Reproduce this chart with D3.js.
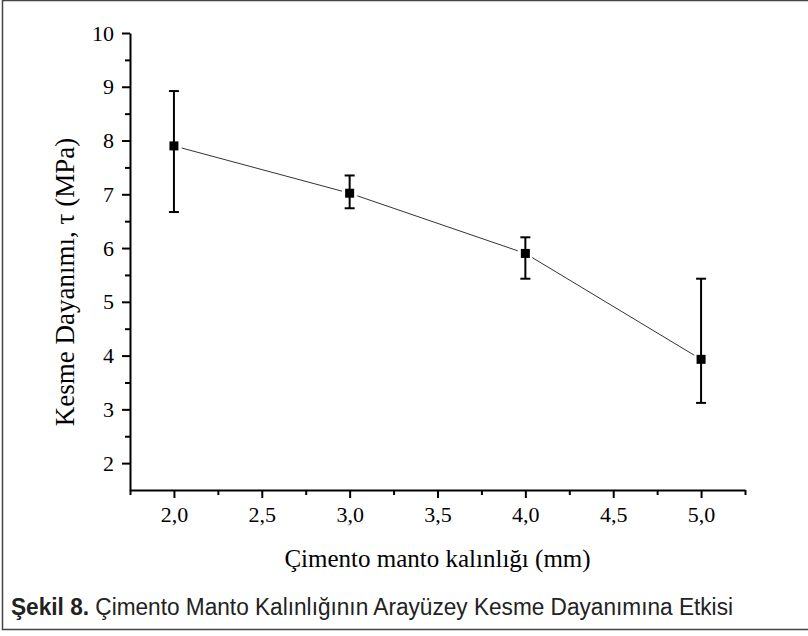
<!DOCTYPE html>
<html>
<head>
<meta charset="utf-8">
<script src="https://cdn.jsdelivr.net/npm/d3@7"></script>
<style>
  body { margin: 0; background: #fff; }
  .svg-main text.serif { font-family: 'Liberation Serif', 'Times New Roman', serif; fill: #000; }
  .svg-main .tick text { font-family: 'Liberation Serif', 'Times New Roman', serif; font-size: 22px; fill: #000; }
</style>
</head>
<body>
<svg class="svg-main" width="808" height="636"></svg>
<script>
// data
const thickness = [2.0, 3.0, 4.0, 5.0];          // mm
const shear = [7.90, 7.02, 5.90, 3.93];           // MPa
const shearHigh = [8.92, 7.35, 6.20, 5.43];
const shearLow = [6.67, 6.74, 5.43, 3.12];
const xTicks = [2.0, 2.5, 3.0, 3.5, 4.0, 4.5, 5.0];
const yTicks = [2, 3, 4, 5, 6, 7, 8, 9, 10];

const svg = d3.select('.svg-main');
const width = Number(svg.attr("width"));

const x = d3.scaleLinear().domain([1.75, 5.25]).range([130, 745]);
const y = d3.scaleLinear().domain([1.5, 10]).range([490, 33]);

// frame (top, left, bottom)
svg.append("path")
  .attr("d", `M${width},0.5 H2.5 V629.5 H${width}`)
  .attr("fill", "none")
  .attr("stroke", "#444")
  .attr("stroke-width", 1.5);

// x axis
const xAxis = svg.append("g")
  .attr("transform", `translate(0,${y(1.5)})`)
  .call(d3.axisBottom(x).tickValues(xTicks).tickSize(8).tickSizeOuter(0)
    .tickFormat((d) => d3.format(".1f")(d).replace(".", ",")));
svg.append("g")
  .attr("transform", `translate(0,${y(1.5)})`)
  .call(d3.axisBottom(x).tickValues([1.75, 2.25, 2.75, 3.25, 3.75, 4.25, 4.75, 5.25])
    .tickSize(5).tickSizeOuter(0).tickFormat(""))
  .call((g) => g.select(".domain").remove());

// y axis
const yAxis = svg.append("g")
  .attr("transform", `translate(${x(1.75)},0)`)
  .call(d3.axisLeft(y).tickValues(yTicks).tickSize(8).tickSizeOuter(0));
svg.append("g")
  .attr("transform", `translate(${x(1.75)},0)`)
  .call(d3.axisLeft(y).tickValues([2.5, 3.5, 4.5, 5.5, 6.5, 7.5, 8.5, 9.5])
    .tickSize(5).tickSizeOuter(0).tickFormat(""))
  .call((g) => g.select(".domain").remove());

svg.selectAll(".domain, .tick line")
  .attr("stroke", "#000")
  .attr("stroke-width", 2);

xAxis.attr("font-family", null).attr("font-size", null);
yAxis.attr("font-family", null).attr("font-size", null);
xAxis.selectAll("text").attr("y", 16).attr("dy", "0.71em");
yAxis.selectAll("text").attr("x", -16);

// axis titles
svg.append("text")
  .attr("class", "serif")
  .attr("x", (x.range()[0] + x.range()[1]) / 2)
  .attr("y", 567)
  .attr("text-anchor", "middle")
  .style("font-size", "25px")
  .text("Çimento manto kalınlığı (mm)");

svg.append("text")
  .attr("class", "serif")
  .attr("transform", "translate(74,282) rotate(-90)")
  .attr("text-anchor", "middle")
  .style("font-size", "27px")
  .text("Kesme Dayanımı, τ (MPa)");

// connecting line, broken just short of each marker
const pts = thickness.map((d, i) => ({ x: d, y: shear[i], hi: shearHigh[i], lo: shearLow[i] }));
const gap = 8;

svg.append("g")
  .selectAll("line")
  .data(d3.pairs(pts))
  .enter().append("line")
    .each(function([a, b]) {
      const x1 = x(a.x), y1 = y(a.y), x2 = x(b.x), y2 = y(b.y);
      const len = Math.hypot(x2 - x1, y2 - y1);
      const ux = (x2 - x1) / len, uy = (y2 - y1) / len;
      d3.select(this)
        .attr("x1", x1 + ux * gap).attr("y1", y1 + uy * gap)
        .attr("x2", x2 - ux * gap).attr("y2", y2 - uy * gap);
    })
    .attr("stroke", "#333")
    .attr("stroke-width", 1);

// error bars
const err = svg.append("g")
  .selectAll("g")
  .data(pts)
  .enter().append("g")
    .attr("stroke", "#000")
    .attr("stroke-width", 2);

err.append("line")
  .attr("x1", (d) => x(d.x)).attr("x2", (d) => x(d.x))
  .attr("y1", (d) => y(d.hi)).attr("y2", (d) => y(d.lo));
err.append("line")
  .attr("x1", (d) => x(d.x) - 5).attr("x2", (d) => x(d.x) + 5)
  .attr("y1", (d) => y(d.hi)).attr("y2", (d) => y(d.hi));
err.append("line")
  .attr("x1", (d) => x(d.x) - 5).attr("x2", (d) => x(d.x) + 5)
  .attr("y1", (d) => y(d.lo)).attr("y2", (d) => y(d.lo));

// markers
svg.append("g")
  .selectAll("rect")
  .data(pts)
  .enter().append("rect")
    .attr("x", (d) => x(d.x) - 4.5)
    .attr("y", (d) => y(d.y) - 4.5)
    .attr("width", 9)
    .attr("height", 9)
    .attr("fill", "#000");

// caption
const cap = svg.append("text")
  .attr("x", 11)
  .attr("y", 615)
  .attr("textLength", 722)
  .attr("lengthAdjust", "spacingAndGlyphs")
  .style("font-family", "'Liberation Sans Narrow', 'Arial Narrow', 'Liberation Sans', sans-serif")
  .style("font-size", "23px")
  .attr("fill", "#222");
cap.append("tspan").attr("font-weight", "bold").text("Şekil 8.");
cap.append("tspan").text(" Çimento Manto Kalınlığının Arayüzey Kesme Dayanımına Etkisi");
</script>
</body>
</html>
